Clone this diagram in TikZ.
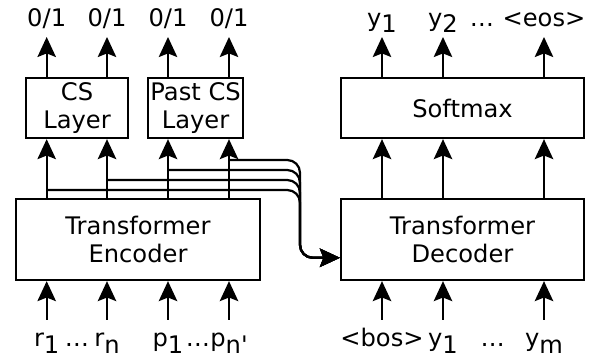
\documentclass[tikz,border=0pt]{standalone}
\usepackage{fontspec}
\setmainfont{DejaVu Sans}
\usetikzlibrary{arrows.meta}

% subscripts are set full size, only lowered
\newcommand{\lowsub}[1]{\raisebox{-0.25em}{#1}}

\begin{document}
\begin{tikzpicture}[
    font=\fontsize{17.2pt}{20pt}\selectfont,
    box/.style={draw, rectangle, line width=1.6pt, align=center, inner sep=0pt},
    outlbl/.style={inner sep=0pt, anchor=base, text depth=0.1cm, outer ysep=0.17cm},
    inlbl/.style={inner sep=0pt, anchor=base, text height=0.45cm, outer ysep=0.225cm},
    arrow/.style={-{Stealth[length=0.5cm, width=0.46cm, inset=0.09cm]}, line width=1.6pt},
    bus/.style={arrow, rounded corners=0.32cm}
]
\useasboundingbox (0,0) rectangle (14.825,9.075);

% Encoder side
\node[box, minimum width=6.1cm, minimum height=2.03cm] (enc) at (3.45,3.09) {Transformer\\Encoder};
\node[box, minimum width=2.55cm, minimum height=1.5cm] (cs) at (1.925,6.375) {CS\\Layer};
\node[box, minimum width=2.375cm, minimum height=1.5cm] (pcs) at (4.89,6.375) {Past CS\\Layer};

% Decoder side
\node[box, minimum width=6.075cm, minimum height=2.03cm] (dec) at (11.5625,3.09) {Transformer\\Decoder};
\node[box, minimum width=6.075cm, minimum height=1.5cm] (soft) at (11.5625,6.375) {Softmax};

% Inputs
\node[inlbl] (r1) at (1.167,0.4) {r\lowsub{1}};
\node[inlbl] (dr) at (1.925,0.4) {…};
\node[inlbl] (rn) at (2.675,0.4) {r\lowsub{n}};
\node[inlbl] (p1) at (4.2,0.4) {p\lowsub{1}};
\node[inlbl] (dp) at (4.95,0.4) {…};
\node[inlbl] (pn) at (5.725,0.4) {p\lowsub{n\textquotesingle}};
\node[inlbl] (bos) at (9.55,0.4) {<bos>};
\node[inlbl] (yin1) at (11.075,0.4) {y\lowsub{1}};
\node[inlbl] (dyin) at (12.32,0.4) {…};
\node[inlbl] (yinm) at (13.6,0.4) {y\lowsub{m}};

% Outputs
\node[outlbl] (o1) at (1.167,8.42) {0/1};
\node[outlbl] (o2) at (2.675,8.42) {0/1};
\node[outlbl] (o3) at (4.2,8.42) {0/1};
\node[outlbl] (o4) at (5.725,8.42) {0/1};
\node[outlbl] (y1) at (9.55,8.42) {y\lowsub{1}};
\node[outlbl] (y2) at (11.075,8.42) {y\lowsub{2}};
\node[outlbl] (dy) at (12.05,8.42) {…};
\node[outlbl] (eos) at (13.6,8.42) {<eos>};

% Encoder states passed to the decoder
\coordinate (b1) at (1.167,4.325);
\coordinate (b2) at (2.675,4.575);
\coordinate (b3) at (4.2,4.825);
\coordinate (b4) at (5.725,5.075);
\coordinate (bend) at (7.5,0);
\coordinate (memin) at ([yshift=-0.46cm]dec.west);

% Arrows
\draw[arrow] (r1) -- (enc.south -| r1);
\draw[arrow] (rn) -- (enc.south -| rn);
\draw[arrow] (p1) -- (enc.south -| p1);
\draw[arrow] (pn) -- (enc.south -| pn);
\draw[arrow] (bos) -- (dec.south -| bos);
\draw[arrow] (yin1) -- (dec.south -| yin1);
\draw[arrow] (yinm) -- (dec.south -| yinm);

\draw[arrow] (enc.north -| o1) -- (cs.south -| o1);
\draw[arrow] (enc.north -| o2) -- (cs.south -| o2);
\draw[arrow] (enc.north -| o3) -- (pcs.south -| o3);
\draw[arrow] (enc.north -| o4) -- (pcs.south -| o4);
\draw[arrow] (dec.north -| y1) -- (soft.south -| y1);
\draw[arrow] (dec.north -| y2) -- (soft.south -| y2);
\draw[arrow] (dec.north -| eos) -- (soft.south -| eos);

\draw[arrow] (cs.north -| o1) -- (o1);
\draw[arrow] (cs.north -| o2) -- (o2);
\draw[arrow] (pcs.north -| o3) -- (o3);
\draw[arrow] (pcs.north -| o4) -- (o4);
\draw[arrow] (soft.north -| y1) -- (y1);
\draw[arrow] (soft.north -| y2) -- (y2);
\draw[arrow] (soft.north -| eos) -- (eos);

\draw[bus] (b1) -- (b1 -| bend) -- (bend |- memin) -- (memin);
\draw[bus] (b2) -- (b2 -| bend) -- (bend |- memin) -- (memin);
\draw[bus] (b3) -- (b3 -| bend) -- (bend |- memin) -- (memin);
\draw[bus] (b4) -- (b4 -| bend) -- (bend |- memin) -- (memin);

\end{tikzpicture}
\end{document}
